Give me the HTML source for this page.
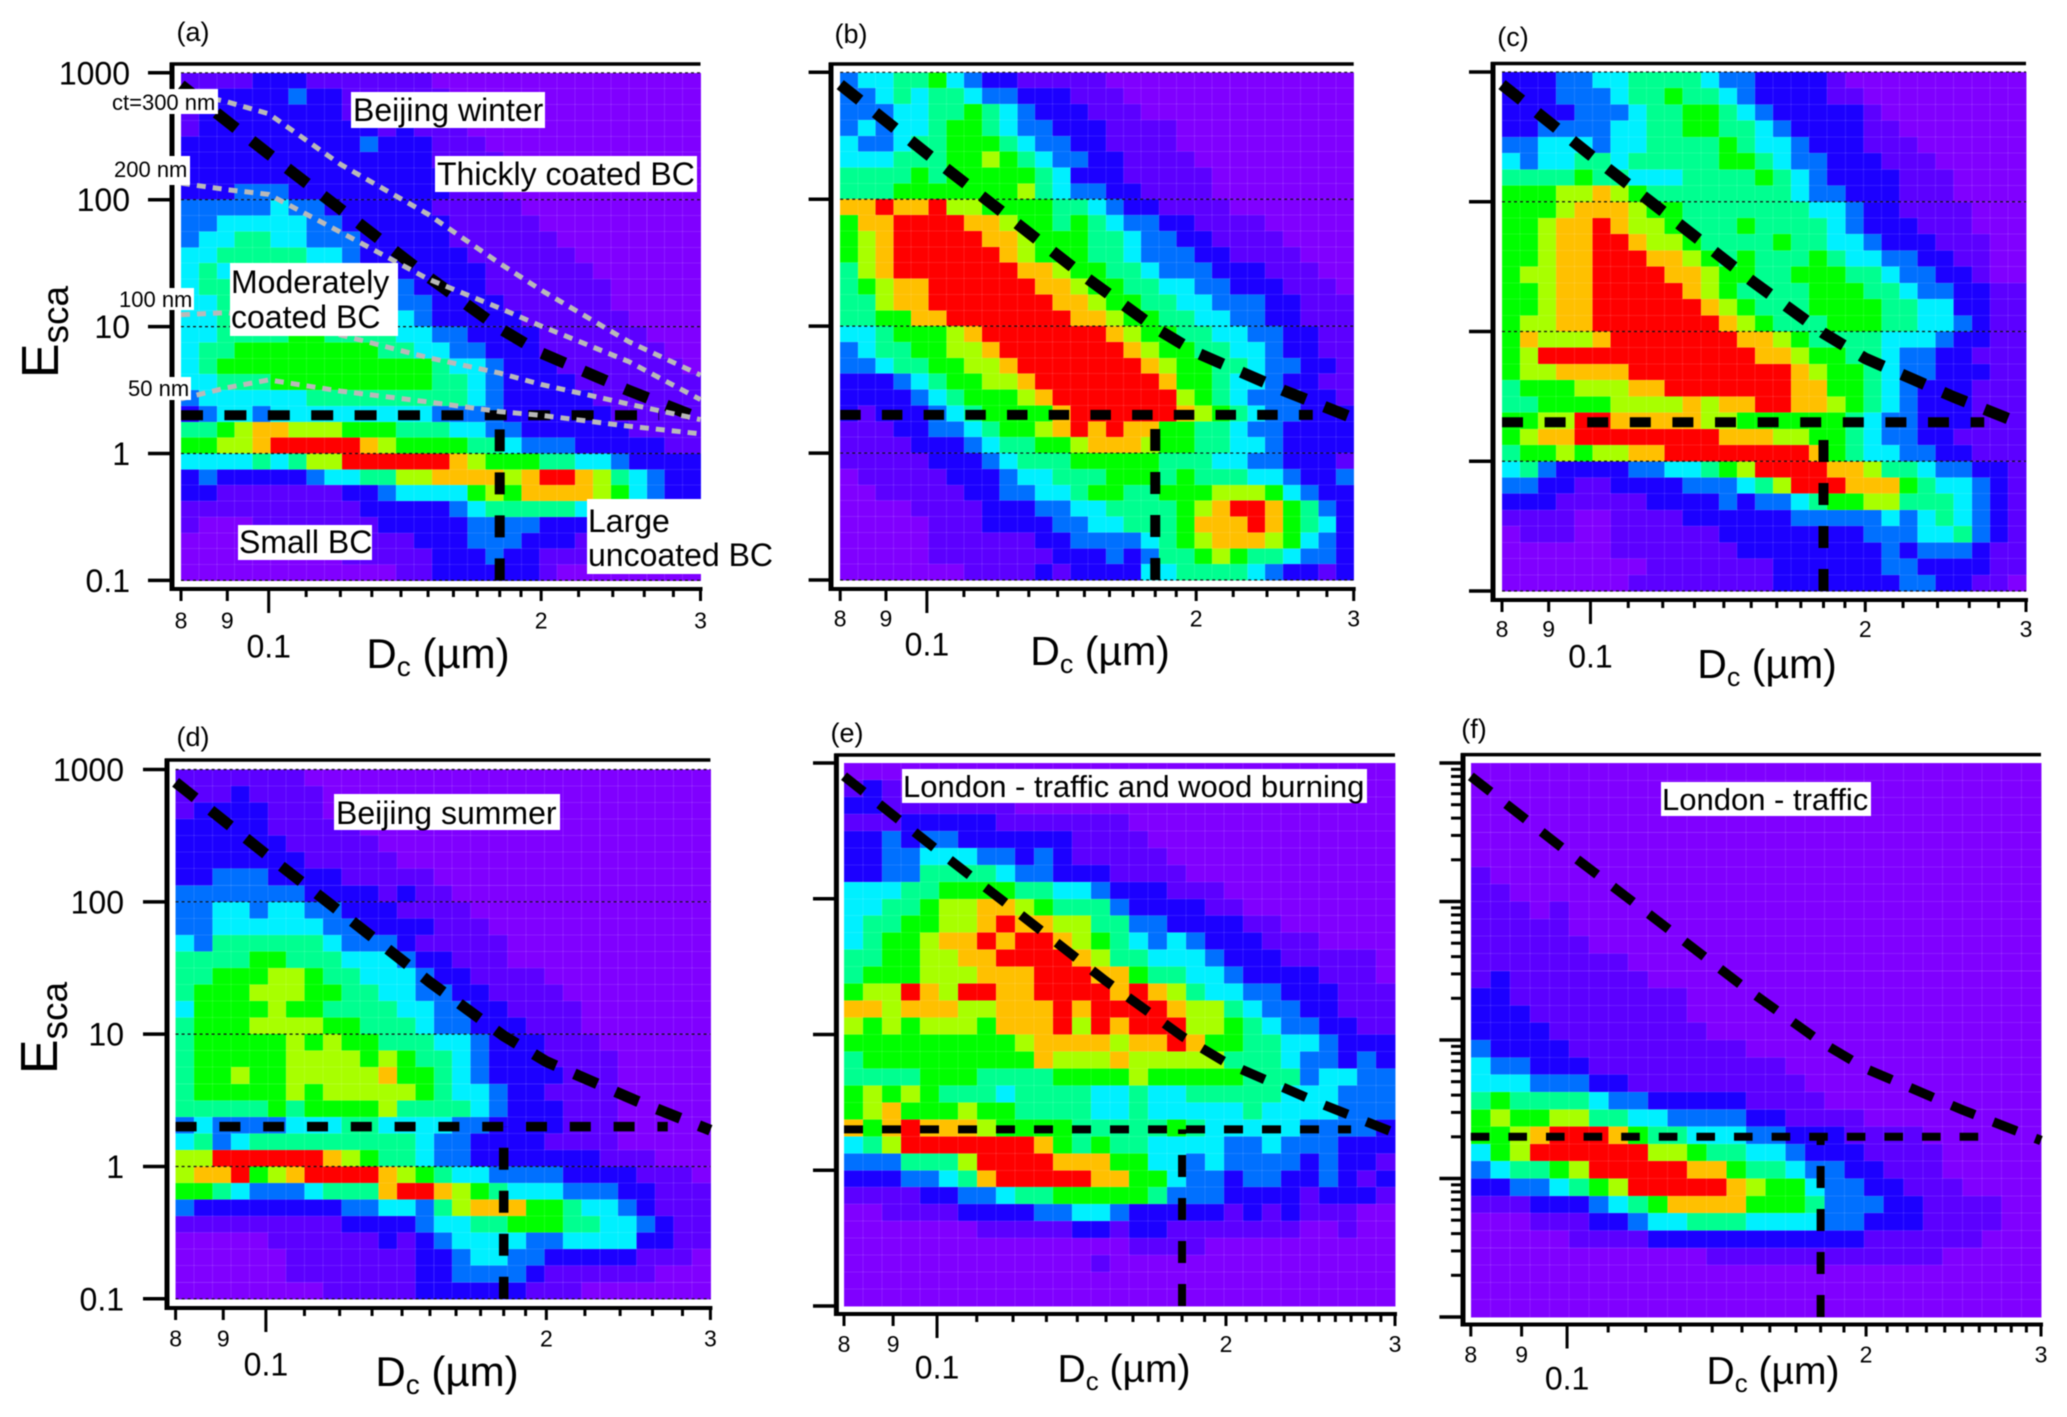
<!DOCTYPE html>
<html lang="en">
<head>
<meta charset="utf-8">
<title>Esca versus Dc heatmaps</title>
<style>
html,body{margin:0;padding:0;background:#fff;}
svg{display:block;font-family:"Liberation Sans",Arial,sans-serif;filter:blur(0.4px);}
</style>
</head>
<body>
<svg id="fig" width="2067" height="1417" viewBox="0 0 2067 1417" xmlns="http://www.w3.org/2000/svg">
<rect width="2067" height="1417" fill="#fff"/>
<g id="marks"></g>

<g font-size="32" fill="#000">
<rect x="351" y="92" width="194" height="36" fill="#fff"/>
<text x="353" y="121">Beijing winter</text>
<rect x="435" y="156" width="262" height="36" fill="#fff"/>
<text x="437" y="185">Thickly coated BC</text>
<rect x="230" y="263" width="168" height="73" fill="#fff"/>
<text x="231" y="293">Moderately</text>
<text x="231" y="328">coated BC</text>
<rect x="238" y="525" width="134" height="35" fill="#fff"/>
<text x="239" y="553">Small BC</text>
<rect x="587" y="499" width="190" height="75" fill="#fff"/>
<text x="588" y="532">Large</text>
<text x="588" y="566">uncoated BC</text>
<g font-size="22">
<rect x="111" y="89" width="107" height="25" fill="#fff"/>
<text x="112" y="110">ct=300 nm</text>
<rect x="113" y="156" width="77" height="29" fill="#fff"/>
<text x="114" y="177">200 nm</text>
<rect x="118" y="288" width="76" height="22" fill="#fff"/>
<text x="119" y="307">100 nm</text>
<rect x="127" y="377" width="64" height="23" fill="#fff"/>
<text x="128" y="396">50 nm</text>
</g>
</g>
<g fill="#000">
<rect x="334" y="794" width="226" height="36" fill="#fff"/>
<text x="336" y="824" font-size="32">Beijing summer</text>
<rect x="902" y="769" width="465" height="34" fill="#fff"/>
<text x="903" y="797" font-size="31">London - traffic and wood burning</text>
<rect x="1661" y="782" width="210" height="34" fill="#fff"/>
<text x="1662" y="810" font-size="31">London - traffic</text>
</g>
<g font-size="27" fill="#000" text-anchor="middle">
<text x="193" y="41">(a)</text>
<text x="851" y="43">(b)</text>
<text x="1513" y="46">(c)</text>
<text x="193" y="746">(d)</text>
<text x="847" y="742">(e)</text>
<text x="1474" y="738">(f)</text>
</g>
<g fill="#000" text-anchor="middle">
<text x="438" y="668" font-size="42">D<tspan font-size="28" dy="8">c</tspan><tspan dy="-8"> (µm)</tspan></text>
<text x="1100" y="665" font-size="41">D<tspan font-size="27" dy="8">c</tspan><tspan dy="-8"> (µm)</tspan></text>
<text x="1767" y="678" font-size="41">D<tspan font-size="27" dy="8">c</tspan><tspan dy="-8"> (µm)</tspan></text>
<text x="447" y="1386" font-size="42">D<tspan font-size="28" dy="8">c</tspan><tspan dy="-8"> (µm)</tspan></text>
<text x="1124" y="1382" font-size="39">D<tspan font-size="26" dy="8">c</tspan><tspan dy="-8"> (µm)</tspan></text>
<text x="1773" y="1384" font-size="39">D<tspan font-size="26" dy="8">c</tspan><tspan dy="-8"> (µm)</tspan></text>
</g>
<g fill="#000" text-anchor="middle">
<text transform="translate(58 332) rotate(-90)" font-size="52">E<tspan font-size="37" dy="10">sca</tspan></text>
<text transform="translate(57 1028) rotate(-90)" font-size="52">E<tspan font-size="37" dy="10">sca</tspan></text>
</g>
</svg>

<script>
// Colour level (0 purple .. 9 red) by row (top to bottom, 32 rows, 8 per decade) and Dc bin; missing trailing bins are level 0.
const panelAValues = [
[1,1,1,1,2,2,2,1,1,1,1,1,1,1],
[1,1,2,2,2,2,3,2,2,1,1,1,1,1,1],
[1,2,2,2,2,2,2,2,2,1,1,1,1,1,1,1],
[1,2,2,2,2,2,2,2,2,2,2,1,2,1,1,1],
[2,2,2,2,2,2,2,2,2,2,3,2,2,2,1,1,1],
[2,2,2,2,2,2,2,2,2,2,2,2,2,2,1,1,1,1],
[2,2,2,2,2,2,2,2,2,2,2,2,2,2,2,1,1,1],
[2,2,2,3,3,3,2,2,2,2,2,2,2,2,2,1,1,1],
[3,3,3,3,3,4,3,3,2,2,2,2,2,2,1,1,1,1,1],
[3,3,4,4,4,4,4,3,3,2,2,2,2,2,2,1,1,1,1,1],
[3,4,4,5,5,4,4,3,3,3,2,2,2,2,2,1,1,1,1,1,1],
[4,4,5,5,5,5,5,4,4,3,2,2,2,2,2,2,1,1,1,1,1,1],
[4,5,4,5,5,5,5,5,5,4,4,3,2,2,2,2,2,1,1,1,1,1,1],
[4,5,5,5,5,5,5,5,5,4,4,3,3,2,2,2,2,1,1,1,1,1,1,1],
[4,4,5,5,5,5,5,5,5,5,4,4,3,3,2,2,2,2,1,1,1,1,1,1],
[4,4,5,5,5,5,5,5,5,5,5,4,4,3,2,2,2,2,2,1,1,1,1,1,1],
[4,4,5,5,5,5,6,6,5,5,5,5,4,4,3,3,2,2,2,2,1,1,1,1,1,1],
[4,5,5,6,6,6,6,6,6,6,6,5,5,4,4,3,3,2,2,2,1,1,1,1,1,1,1],
[4,5,6,6,6,6,6,6,6,6,6,6,6,6,5,4,4,3,2,2,2,1,1,1,1,1,1,1],
[4,4,5,5,5,6,6,6,6,6,6,6,6,6,5,5,4,3,2,2,2,2,1,1,1,1,1,1,1],
[3,4,4,4,4,4,4,5,5,5,5,5,5,5,5,5,4,3,2,2,2,2,2,1,1,1,1,1,1],
[2,3,4,4,3,4,4,4,4,4,4,4,4,4,3,3,3,3,2,2,2,2,2,2,1,1,1,1,1],
[5,5,6,7,8,8,7,7,7,6,6,6,5,5,5,4,4,3,3,2,2,2,2,2,2,1,1,1,1],
[6,6,7,7,8,9,9,9,9,9,8,7,6,6,6,6,5,5,4,3,3,3,2,2,2,2,2,1,1],
[4,4,4,4,5,4,5,7,7,9,9,9,9,9,9,8,7,6,6,6,5,5,4,4,3,2,2,2,2],
[2,3,2,2,2,2,2,3,4,4,5,5,7,7,8,8,8,8,7,8,9,9,8,7,5,4,3,2,2],
[2,2,1,1,1,1,1,1,1,2,2,3,4,4,4,4,6,7,6,8,8,8,8,7,6,4,3,2,2],
[1,1,1,1,1,1,1,1,1,1,2,2,2,2,2,3,4,5,5,5,5,5,4,3,2,2,2,1,1],
[1,0,0,0,1,1,1,1,1,1,1,2,2,2,2,2,3,3,3,3,2,2,2,2,1,1,1,1,1],
[0,0,0,0,0,1,1,1,1,1,1,1,1,2,2,2,3,3,3,2,2,2,1,1,1,1,1],
[0,0,0,0,0,0,0,0,0,1,1,1,1,1,2,2,2,3,2,2,1,1,1],
[0,0,0,0,0,0,0,0,0,0,0,0,1,1,2,2,2,2,2,2,1]
];
const panelBValues = [
[3,4,4,5,5,6,4,3,2,2,1,1,1,1,1],
[3,3,4,5,4,5,5,4,3,3,2,2,2,1,1,1],
[3,3,3,4,4,5,5,6,5,4,3,2,2,2,1,1,1],
[3,4,3,4,4,5,6,6,5,4,3,3,2,2,2,1,1,1,1],
[4,3,3,4,5,5,6,6,6,5,4,3,3,2,2,1,1,1,1],
[4,4,4,5,5,5,6,6,7,6,5,4,3,3,2,2,1,1,1,1],
[5,5,5,5,6,5,6,6,6,6,6,5,4,2,2,2,1,1,1,1,1],
[5,5,5,6,6,6,6,6,6,6,7,5,4,3,3,2,2,1,1,1,1],
[8,8,9,8,8,9,7,7,6,6,6,6,5,5,4,3,2,2,1,1,1,1],
[6,8,8,9,9,9,9,8,8,7,6,6,5,6,5,4,3,3,2,2,1,1,1,1],
[6,7,8,9,9,9,9,9,8,8,7,6,6,6,5,5,4,3,3,2,2,1,1,1,1],
[6,7,8,9,9,9,9,9,9,8,7,6,6,6,5,5,4,3,3,3,2,2,1,1,1,1],
[5,7,8,9,9,9,9,9,9,9,8,8,7,6,6,5,5,4,3,3,3,2,2,2,1,1,1],
[5,6,7,8,8,9,9,9,9,9,9,8,8,7,6,6,5,5,4,4,3,3,2,2,2,1,1,1],
[5,5,7,8,8,9,9,9,9,9,9,9,8,8,7,6,6,5,5,4,4,3,3,3,2,2,1,1,1],
[5,5,6,6,8,8,9,9,9,9,9,9,9,8,8,7,6,6,5,5,4,4,3,3,2,2,1,1,1],
[4,4,5,6,6,6,7,8,9,9,9,9,9,9,9,8,7,6,6,5,5,4,4,3,3,2,2,1,1],
[3,4,5,5,6,6,7,7,8,9,9,9,9,9,9,9,8,7,6,6,5,5,4,4,3,2,2,1,1],
[3,3,4,5,5,6,6,7,7,8,9,9,9,9,9,9,9,8,7,6,6,5,5,4,3,3,2,2,1],
[2,2,2,3,4,5,6,6,7,7,8,9,9,9,9,9,9,9,8,6,6,5,4,4,3,2,2,1,1],
[2,2,2,2,3,4,5,6,6,6,7,8,9,9,9,9,9,9,9,7,6,5,4,3,3,3,2,2,1],
[2,1,2,2,2,3,4,5,6,6,6,6,8,9,9,9,9,9,9,8,7,6,5,4,3,3,2,2,2],
[1,1,1,2,2,3,3,4,5,6,6,7,8,9,8,9,8,8,6,6,5,5,4,3,3,2,2,2,2],
[1,1,1,1,2,2,2,3,4,5,5,6,6,7,8,8,8,7,6,6,5,5,4,4,3,2,2,2,2],
[1,1,1,1,1,2,2,2,3,4,5,5,5,6,6,6,6,6,5,5,5,4,4,3,3,2,2,2,1],
[0,1,1,1,1,1,2,2,2,3,4,4,5,5,5,6,6,6,5,6,5,5,5,4,4,3,2,2,3],
[0,0,1,1,1,1,1,2,2,3,3,4,4,5,6,6,5,5,6,6,6,7,7,7,6,4,3,2,2],
[0,0,0,0,1,1,1,1,2,2,2,3,3,4,4,5,5,5,5,6,7,8,9,9,8,6,5,3,2],
[0,0,0,0,0,1,1,1,2,2,2,2,3,3,4,4,5,5,5,6,8,8,8,9,8,6,5,4,2],
[0,0,0,0,0,1,1,1,1,1,1,2,2,3,3,3,3,4,5,6,7,8,8,8,7,6,4,3,2],
[0,0,0,0,0,1,1,1,1,1,1,1,2,2,2,3,2,3,5,5,6,7,6,5,5,4,3,3,2],
[0,0,0,0,0,0,0,1,1,1,1,2,1,2,2,2,2,4,4,5,5,5,5,4,3,2,2,1,2]
];
const panelCValues = [
[2,2,2,3,3,4,4,5,5,5,5,4,3,3,2,2,2,2,1],
[2,2,2,3,3,3,4,5,5,6,5,5,4,3,2,2,2,2,1,1],
[2,2,2,2,3,3,3,4,5,5,6,6,5,4,3,2,2,2,2,2,1],
[2,2,3,3,3,3,4,4,5,5,6,6,5,5,4,3,2,2,2,2,1,1],
[3,3,4,4,4,3,4,4,5,5,5,5,6,5,4,4,3,2,2,2,1,1,1],
[4,3,4,4,5,5,4,5,5,5,5,5,6,6,5,4,3,3,2,2,2,1,1,1],
[5,5,5,5,6,5,5,4,4,4,5,5,5,5,6,5,4,3,2,2,2,2,1,1,1],
[6,6,6,7,7,8,7,6,5,5,5,5,5,5,5,5,4,3,3,2,2,2,1,1,1],
[6,6,6,7,8,8,8,7,6,6,5,5,5,5,5,5,5,4,4,3,2,2,1,1,1,1],
[6,6,7,8,8,9,8,7,7,6,5,5,5,6,5,5,5,5,4,3,2,2,2,1,1,1],
[6,6,7,8,8,9,9,8,7,7,6,5,5,5,5,6,5,5,4,4,3,2,2,2,1,1,1],
[6,6,7,8,8,9,9,9,8,8,7,6,5,6,5,5,5,6,5,4,4,3,3,2,2,1,1],
[6,7,7,8,8,9,9,9,9,8,8,7,6,6,5,5,6,6,6,5,5,4,3,3,2,2,1],
[6,6,7,8,8,9,9,9,9,9,8,7,6,5,5,5,5,6,6,6,5,5,4,3,3,2,2,1,1],
[6,6,7,8,8,9,9,9,9,9,9,8,7,6,5,5,5,6,6,6,6,5,5,4,4,2,2,1,1],
[6,7,7,8,8,9,9,9,9,9,9,9,8,7,6,5,5,5,6,6,6,5,5,4,4,3,2,1,1],
[6,8,7,7,7,8,9,9,9,9,9,9,9,8,8,7,6,5,5,5,5,4,4,4,3,2,2,1,1],
[6,7,9,9,9,9,9,9,9,9,9,9,9,9,8,8,7,6,6,5,5,4,3,3,2,2,1,1,1],
[6,7,7,8,8,8,8,9,9,9,9,9,9,9,9,9,8,7,6,6,5,4,3,3,2,2,2,1,1],
[5,6,6,6,7,7,7,8,8,9,9,9,9,9,9,9,8,8,6,6,5,4,3,2,2,2,1,1,1],
[5,5,6,6,6,6,7,7,7,7,8,7,8,8,9,9,8,8,7,6,5,4,3,2,2,2,1,1,1],
[6,6,7,7,9,9,8,8,8,8,8,7,7,6,6,6,6,6,6,5,4,3,3,2,2,2,1,1,1],
[6,7,8,8,9,9,9,9,9,9,9,9,8,8,8,7,7,6,6,5,4,3,3,2,2,1,1,1,1],
[5,6,6,7,6,7,7,8,8,9,9,9,9,9,9,9,9,8,6,5,4,4,3,3,2,2,1,1,1],
[4,5,3,2,2,2,2,3,3,4,4,5,6,7,9,9,9,9,8,8,7,5,5,4,3,3,2,2,1],
[3,3,2,2,1,1,2,2,2,2,3,3,3,4,5,7,9,9,9,8,8,8,6,5,4,4,3,2,1],
[2,2,2,1,1,1,1,1,2,2,2,2,3,2,3,3,4,5,6,6,7,7,5,5,5,4,3,2,1],
[1,1,1,1,0,0,1,1,1,1,2,2,2,2,2,2,3,3,3,3,3,4,3,4,5,4,3,2,1],
[0,1,1,1,0,0,1,1,1,1,1,1,2,2,2,2,2,2,2,2,3,3,3,4,4,5,3,2,1],
[0,0,0,0,0,0,1,1,1,1,1,1,1,2,2,2,2,2,2,2,2,3,2,3,3,3,2,1,1],
[0,0,0,0,0,0,0,0,1,1,1,1,1,1,1,2,2,2,2,2,2,3,3,2,2,2,2,1,1],
[0,0,0,0,0,0,0,1,1,1,1,1,1,1,1,2,2,2,2,2,2,2,3,3,2,2,1,1]
];
const panelDValues = [
[1,1,1,1,1,1,1],
[1,1,1,2,1,1,1,1],
[1,2,2,2,2,1,1,1,0,0,1],
[2,2,2,2,2,1,1,1,1,1],
[2,2,2,2,2,2,1,1,1,1,1],
[2,2,2,2,2,2,2,1,1,1,1,1],
[2,2,3,3,3,2,2,2,2,1,1,1,1,1],
[3,3,3,3,3,3,3,2,2,2,2,1,2,1,1],
[3,3,4,4,3,4,4,3,3,2,2,2,1,1,1,1],
[3,3,4,4,4,4,4,4,3,3,2,2,2,2,1,1,1],
[4,3,5,5,5,5,5,5,4,3,3,3,2,1,1,1,1,1],
[5,5,5,5,6,6,5,5,5,4,4,4,3,2,2,1,1,1],
[5,5,6,6,6,7,7,6,5,5,4,4,4,3,2,2,1,1,1,1],
[5,6,6,6,7,7,7,6,6,5,5,4,4,3,3,2,2,1,1,1,1],
[4,6,6,6,6,7,6,6,5,5,5,5,4,4,3,3,2,2,1,1,1,1],
[5,6,6,6,7,7,7,7,6,6,5,5,5,4,3,3,2,2,2,1,1,1],
[5,6,6,6,6,6,7,6,7,6,6,5,5,5,4,4,3,2,2,2,1,1,1],
[5,6,6,6,6,6,7,7,7,7,6,7,6,5,5,4,3,2,2,2,1,1,1,1],
[5,6,6,7,6,6,7,7,7,7,7,8,6,6,5,4,3,2,2,2,2,1,1,1],
[5,6,6,6,6,6,7,6,7,7,7,7,7,6,5,4,4,3,2,2,1,1,1,1],
[5,5,5,5,5,6,5,6,6,6,6,7,5,5,5,5,4,3,2,2,2,1,1,1],
[3,4,3,3,3,3,4,4,4,5,5,4,4,4,4,3,3,2,2,2,2,1,1,1],
[4,5,3,4,5,5,5,5,5,5,5,5,5,4,3,3,2,2,2,2,1,1,1,1],
[7,7,9,9,9,9,9,9,8,7,6,5,5,4,3,3,2,2,2,2,2,2,2,1,1,1],
[7,8,8,9,6,7,8,9,9,9,9,8,7,6,5,4,4,3,3,3,3,2,2,2,2,1,1,1],
[6,6,5,4,3,3,3,4,5,5,5,8,9,9,8,7,6,5,4,4,4,3,3,3,2,2,1,1,1],
[3,2,2,2,2,2,2,2,2,3,3,4,4,3,5,7,8,8,8,6,6,5,4,4,3,2,1,1,1],
[1,1,1,1,1,1,1,1,1,2,2,2,2,3,4,4,5,5,6,6,6,5,5,4,4,3,2,1,1],
[0,0,0,0,0,1,1,1,1,1,1,2,1,2,3,4,4,4,4,3,3,4,4,4,4,2,2,1,1],
[0,0,0,0,0,0,1,1,1,1,1,1,1,2,2,3,4,4,3,3,2,2,2,2,2,1,1,1],
[0,0,0,0,0,0,1,1,1,1,1,1,1,2,2,3,3,3,3,2,1,1,1,1,1,1],
[0,0,0,0,0,0,0,0,1,1,1,1,1,2,2,2,2,2,2,1,1,1]
];
const panelEValues = [
[0],
[1,2,1],
[2,2,1,1,1,1,1,1,1],
[1,1,1,2,2,2,2,2,1,1,1,1,1,1,1],
[2,2,3,2,3,3,2,2,2,2,2,2,1,1,1,1],
[2,2,3,3,4,4,4,3,3,2,3,2,1,1,1,1,1],
[2,2,3,3,5,5,5,5,4,3,3,2,2,2,1,1,1,1],
[4,4,4,5,5,6,6,6,6,5,5,4,4,3,2,2,2,1,1,1],
[4,4,5,5,6,7,7,8,8,7,6,5,5,5,3,2,2,2,2,1,1],
[4,5,5,6,6,7,7,8,9,8,8,7,7,5,5,3,3,2,2,2,2,1,1],
[4,5,6,6,7,8,8,9,8,9,9,8,7,6,5,4,3,4,3,2,2,2,1,1,1],
[5,5,6,6,7,7,8,8,9,9,9,9,8,7,5,5,4,4,4,3,2,2,2,1,1,1,1,1],
[5,6,6,6,7,7,7,8,8,8,9,9,9,8,8,6,5,5,4,4,3,2,2,2,2,1,1,1],
[6,7,7,9,8,7,9,9,8,8,9,9,9,9,8,9,8,7,5,4,4,3,3,2,2,2,1,1,1],
[8,8,7,8,8,8,7,7,8,8,8,9,8,9,9,9,9,8,7,7,5,4,3,3,2,2,1,1,1],
[7,6,7,6,7,7,7,6,8,8,8,9,7,9,8,9,9,9,7,7,6,5,4,3,3,2,2,1,1],
[6,6,6,6,6,6,6,6,6,7,8,8,8,8,7,8,8,9,8,6,6,5,5,4,4,3,2,2,2],
[5,6,6,6,6,6,6,6,6,6,8,7,7,7,8,7,7,7,7,7,5,5,5,4,3,3,2,3,2],
[5,5,5,5,6,6,6,5,5,5,5,6,6,6,6,7,6,6,6,6,6,5,5,5,3,4,4,3,3],
[6,7,6,7,6,5,5,5,4,5,5,5,5,4,4,5,4,4,5,5,5,5,5,4,4,4,3,3,3],
[6,7,8,6,6,6,7,6,6,5,5,5,5,4,4,5,4,4,4,4,4,5,4,4,4,4,3,3,3],
[8,6,8,9,8,8,8,7,6,6,6,6,5,5,5,5,5,6,5,4,4,4,4,4,3,3,3,3,2],
[4,5,7,9,9,9,9,9,9,9,8,6,5,6,5,5,4,4,4,4,3,3,4,3,3,3,2,2,2],
[3,3,3,5,5,5,7,9,9,9,9,8,8,8,6,6,4,4,3,4,3,3,3,3,2,3,2,2,1],
[2,2,2,3,3,4,5,8,9,9,9,9,9,8,8,6,6,4,3,3,2,3,3,2,2,3,2,1,2],
[1,1,1,1,2,2,3,3,4,5,5,6,6,6,6,6,5,3,3,3,2,2,2,2,1,2,2,2,1],
[0,0,1,1,1,1,2,2,2,2,3,3,4,4,3,2,2,2,2,2,1,2,1,2,1,1,1],
[0,0,0,0,0,0,0,1,1,1,1,1,2,2,1,2,2,1,1,1,1,1,1,1,0,0,1],
[0,0,0,0,0,0,0,0,0,0,0,0,0,0,0,1,1,1,1],
[0,0,0,0,0,0,0,0,0,0,0,0,0,1],
[0],
[0]
];
const panelFValues = [
[0],
[0],
[0],
[0],
[0],
[0],
[1],
[1,1],
[1,1,1,0,1],
[1,1,1,1,1],
[1,1,1,1,1,1],
[1,1,1,1,1,1,1,1],
[1,2,1,1,1,1,1,1,1],
[2,2,1,1,1,1,1,1,1,1,1],
[2,2,2,1,1,1,1,1,1,1,1],
[2,2,2,2,1,1,1,1,1,1,1,1],
[3,2,2,2,2,1,1,1,1,1,1,1,1,1],
[4,3,3,2,2,2,1,1,1,1,1,1,1,1,1,1],
[4,4,4,3,3,3,2,2,1,1,1,1,1,1,1,1,1],
[5,6,5,5,5,5,4,3,3,2,2,2,2,2,1,1,1,1],
[6,7,6,6,7,7,5,5,4,4,3,3,3,3,2,2,1,1,1,1],
[6,6,7,8,9,9,9,8,6,5,5,4,4,4,3,3,2,2,2,1,1,1,1],
[4,6,7,9,9,9,9,9,9,7,7,6,5,5,4,4,3,2,2,2,1,1,1,1],
[3,4,5,5,6,7,9,9,9,9,9,8,8,6,5,5,4,3,3,2,2,1,1,1],
[2,2,3,3,4,5,6,7,9,9,9,9,9,8,7,6,6,4,3,3,2,2,1,1,1],
[1,1,1,2,2,2,3,4,5,6,8,8,8,8,6,6,6,5,3,3,3,2,2,1,1,1,1],
[0,0,0,1,1,1,2,2,3,4,4,5,5,5,4,4,4,4,3,3,2,2,2,1,1,1,1],
[0,0,0,0,0,1,1,1,1,2,2,2,2,2,2,2,2,2,2,2,1,1,1,1,1,1],
[0,0,0,0,0,0,0,0,0,0,0,0,1,1,1,1,1,1,1,1,1,1,1,1],
[0],
[0],
[0]
];

// Threshold curve Esca(Dc), and the coating-thickness curves of panel (a)
const curveDc = [0.08,0.1,0.12,0.15,0.18,0.2,0.25,0.3];
const curveEsca = [800,229,84.5,24.7,9.7,6.2,3.13,1.88];
const coatDc = [0.08,0.09,0.1,0.12,0.15,0.18,0.2,0.25,0.3];
const coat300 = [712,590,475,190,76.7,31.5,19.4,7.6,4.15];
const coat200 = [135,120,110,55.5,23.7,14,10.1,5.3,2.66];
const coat100 = [12.4,12.9,11.4,8.6,5.7,4.3,3.5,2.45,1.85];
const coat50 = [2.7,3.3,3.8,3.1,2.55,2.14,2.0,1.64,1.43];
const thresholdEsca = [2];
const thresholdDc = [0.18];
const thresholdEndDc = [0.27];

// Axis ticks
const yTickValues = [1000,100,10,1,0.1];
const yTickLabels = ["1000","100","10","1","0.1"];
const xTickValues = [0.08,0.09,0.1,0.2,0.3];
const xTickLabels = ["8","9","0.1","2","3"];
const xMinorCoarse = [0.11,0.12,0.13,0.14,0.15,0.16,0.17,0.18,0.19,0.22,0.24,0.26,0.28];
const xMinorFine = [0.11,0.12,0.13,0.14,0.15,0.16,0.17,0.18,0.19,0.21,0.22,0.23,0.24,0.25,0.26,0.27,0.28,0.29];
const yMinorFactors = [2,3,4,5,6,7,8,9];

const X_MIN = 0.08, X_MAX = 0.3, Y_MIN = 0.1, Y_MAX = 1000, N_COLS = 29, N_ROWS = 32;
const colourStops = ["#8000ff","#5c00ff","#1c00ff","#0070ff","#00f0ff","#00ff90","#00ff00","#a8ff00","#ffc000","#ff0000"];

const panels = [
 {id:"a",values:panelAValues,L:181,R:700.5,T:72.8,B:580.4,axisX:172,axisTop:64,axisBot:589,tickL:148,yLabelR:130,yLabelFont:32,digitY:620,zeroOneY:646,grid:true,fine:false,minorY:false,dash:[22,21.4],thick:10,coat:true},
 {id:"b",values:panelBValues,L:840.2,R:1353.7,T:72.3,B:580,axisX:831,axisTop:64,axisBot:589,tickL:808.6,digitY:618,zeroOneY:644,grid:true,fine:false,minorY:false,dash:[20.5,21.2],thick:10},
 {id:"c",values:panelCValues,L:1502,R:2026,T:72,B:591,axisX:1493,axisTop:63.5,axisBot:600,tickL:1469,digitY:628.6,zeroOneY:656,grid:true,fine:false,minorY:false,dash:[21,21.6],thick:10},
 {id:"d",values:panelDValues,L:175.6,R:710.4,T:769.5,B:1298.8,axisX:167,axisTop:760,axisBot:1308,tickL:143,yLabelR:124,yLabelFont:32,digitY:1338,zeroOneY:1364,grid:true,fine:false,minorY:false,dash:[21,22.8],thick:9.5},
 {id:"e",values:panelEValues,L:844,R:1395,T:763,B:1306,axisX:836.4,axisTop:755,axisBot:1314,tickL:813,digitY:1343.5,zeroOneY:1367,grid:false,fine:true,minorY:false,dash:[19,19],thick:8},
 {id:"f",values:panelFValues,L:1470.8,R:2041,T:763,B:1317,axisX:1463,axisTop:754.6,axisBot:1324.5,tickL:1439.4,digitY:1354,zeroOneY:1378,grid:false,fine:true,minorY:true,dash:[18.6,19],thick:8}
];

const SVG_NS = "http://www.w3.org/2000/svg";
const root = document.getElementById("marks");

function mk(tag, parent, attrs) {
  const el = document.createElementNS(SVG_NS, tag);
  for (const k in attrs) el.setAttribute(k, attrs[k]);
  parent.appendChild(el);
  return el;
}
function colour(level) {
  const v = Math.max(0, Math.min(9, level));
  const i = Math.min(8, Math.floor(v));
  const t = v - i;
  const a = colourStops[i], b = colourStops[i + 1];
  const ch = function (s, p) { return parseInt(s.substr(p, 2), 16); };
  const mix = function (p) { return Math.round(ch(a, p) * (1 - t) + ch(b, p) * t); };
  return "rgb(" + mix(1) + "," + mix(3) + "," + mix(5) + ")";
}
function linePath(xs, ys, xf, yf) {
  return xs.map(function (x, i) { return (i ? "L" : "M") + xf(x).toFixed(1) + " " + yf(ys[i]).toFixed(1); }).join(" ");
}

panels.forEach(function (p) {
  const xScale = function (v) { return p.L + (p.R - p.L) * Math.log(v / X_MIN) / Math.log(X_MAX / X_MIN); };
  const yScale = function (v) { return p.B - (p.B - p.T) * (Math.log10(v) - Math.log10(Y_MIN)) / (Math.log10(Y_MAX) - Math.log10(Y_MIN)); };
  const xEdge = function (c) { return X_MIN * Math.pow(X_MAX / X_MIN, c / N_COLS); };
  const yEdge = function (r) { return Y_MAX * Math.pow(Y_MIN / Y_MAX, r / N_ROWS); };

  const g = mk("g", root, {});
  
  

  // heatmap
  const heat = mk("g", g, {"shape-rendering": "crispEdges"});
  
  
  for (let r = 0; r < N_ROWS; r++) {
    const row = p.values[r] || [];
    for (let c = 0; c < N_COLS; c++) {
      const level = row[c] || 0;
      const x0 = xScale(xEdge(c)), x1 = xScale(xEdge(c + 1));
      const y0 = yScale(yEdge(r)), y1 = yScale(yEdge(r + 1));
      const cell = mk("rect", heat, {x: x0.toFixed(1), y: y0.toFixed(1), width: (x1 - x0 + 0.5).toFixed(1), height: (y1 - y0 + 0.5).toFixed(1), fill: colour(level), stroke: "rgba(255,255,255,0.1)", "stroke-width": 1});
      
      
    }
  }

  // decade gridlines
  if (p.grid) {
    yTickValues.forEach(function (v) {
      const gl = mk("line", g, {x1: p.L, x2: p.R, y1: yScale(v), y2: yScale(v), stroke: "#111", "stroke-width": 1.2, "stroke-dasharray": "3 3"});
      
      
    });
  }

  // threshold lines
  const hLine = mk("line", g, {x1: xScale(X_MIN), x2: xScale(thresholdEndDc[0]), y1: yScale(thresholdEsca[0]), y2: yScale(thresholdEsca[0]), stroke: "#000", "stroke-width": p.thick, "stroke-dasharray": p.dash.join(" ")});
  
  

  const vLine = mk("line", g, {x1: xScale(thresholdDc[0]), x2: xScale(thresholdDc[0]), y1: yScale(Y_MIN), y2: yScale(thresholdEsca[0]), stroke: "#000", "stroke-width": p.thick, "stroke-dasharray": "22 21"});
  
  

  const curve = mk("path", g, {d: linePath(curveDc, curveEsca, xScale, yScale), fill: "none", stroke: "#000", "stroke-width": p.thick + 1.5, "stroke-dasharray": "25 20"});
  
  

  // coating curves, panel (a) only
  if (p.coat) {
    [coat300, coat200, coat100, coat50].forEach(function (series) {
      const cc = mk("path", g, {d: linePath(coatDc, series, xScale, yScale), fill: "none", stroke: "#b9b9b9", "stroke-width": 5, "stroke-dasharray": "9 7"});
      
      
    });
  }

  // axes
  const top = mk("line", g, {x1: p.axisX - 2, x2: p.R, y1: p.axisTop, y2: p.axisTop, stroke: "#000", "stroke-width": 3.5});
  
  
  const left = mk("line", g, {x1: p.axisX, x2: p.axisX, y1: p.axisTop - 1.5, y2: p.axisBot + 2, stroke: "#000", "stroke-width": 5});
  
  
  const bottom = mk("line", g, {x1: p.axisX - 2, x2: p.R + 2, y1: p.axisBot, y2: p.axisBot, stroke: "#000", "stroke-width": 4});
  
  

  // y ticks
  yTickValues.forEach(function (v, i) {
    const t = mk("line", g, {x1: p.tickL, x2: p.axisX, y1: yScale(v), y2: yScale(v), stroke: "#000", "stroke-width": 3.5});
    
    
    if (p.yLabelR) {
      const lab = mk("text", g, {x: p.yLabelR, y: yScale(v) + p.yLabelFont * 0.36, "text-anchor": "end", "font-size": p.yLabelFont, fill: "#000"});
      
      
      lab.textContent = yTickLabels[i];
    }
    if (p.minorY && v > Y_MIN) {
      yMinorFactors.forEach(function (m) {
        const mv = v / 10 * m;
        const mt = mk("line", g, {x1: p.axisX - 12, x2: p.axisX, y1: yScale(mv), y2: yScale(mv), stroke: "#000", "stroke-width": 3});
        
        
      });
    }
  });

  // x ticks
  xTickValues.forEach(function (v, i) {
    const isMain = xTickLabels[i] === "0.1";
    const t = mk("line", g, {x1: xScale(v), x2: xScale(v), y1: p.axisBot, y2: p.axisBot + (isMain ? 24 : 12), stroke: "#000", "stroke-width": 3});
    
    
    const size = isMain ? 32 : 23;
    const lab = mk("text", g, {x: xScale(v), y: (isMain ? p.zeroOneY : p.digitY) + size * 0.36, "text-anchor": "middle", "font-size": size, fill: "#000"});
    
    
    lab.textContent = xTickLabels[i];
  });
  (p.fine ? xMinorFine : xMinorCoarse).forEach(function (v) {
    const t = mk("line", g, {x1: xScale(v), x2: xScale(v), y1: p.axisBot, y2: p.axisBot + 8, stroke: "#000", "stroke-width": 3});
    
    
  });
});
</script>
</body>
</html>
